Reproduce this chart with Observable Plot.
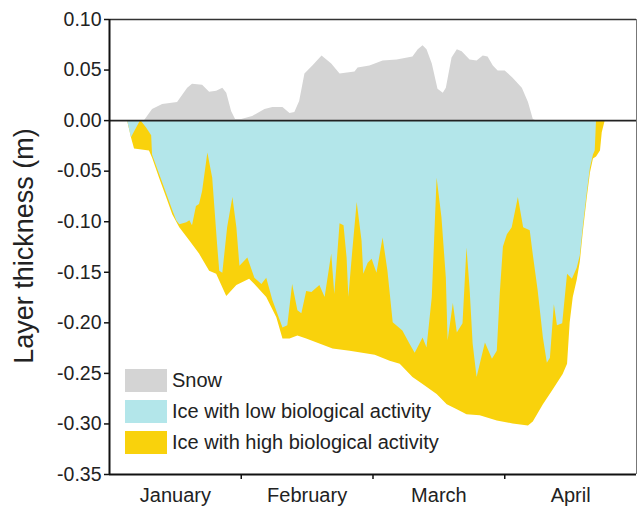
<!DOCTYPE html>
<html>
<head>
<meta charset="utf-8">
<script src="https://cdn.jsdelivr.net/npm/d3@7"></script>
<script src="https://cdn.jsdelivr.net/npm/@observablehq/plot@0.6"></script>
<style>
  html, body { margin: 0; padding: 0; background: #fff; }
  #wrap { position: relative; width: 637px; height: 507px; font-family: "Liberation Sans", Arial, sans-serif; }
  #legend { position: absolute; left: 125px; top: 369px; }
  .item { display: flex; align-items: center; height: 23px; margin-bottom: 8px; }
  .sw { width: 42px; height: 23px; margin-right: 5px; }
  .lab { font-size: 20px; color: #222; white-space: nowrap; }
</style>
</head>
<body>
<div id="wrap"></div>
<script>
// Time axis: days since 1 January (each month drawn as a 30-day block)
const months = ["January", "February", "March", "April"];
const monthCenters = [15, 45, 75, 105];
const monthEdges = [30, 60, 90];
const yTicks = [-0.35, -0.30, -0.25, -0.20, -0.15, -0.10, -0.05, 0.00, 0.05, 0.10];

const seriesNames = ["Snow", "Ice with low biological activity", "Ice with high biological activity"];
const seriesColors = ["#d4d4d4", "#b3e6ea", "#f9d20c"];

// Snow thickness (m)
const snowDay = [8.0, 9.8, 12.1, 15.5, 17.8, 18.9, 21.2, 22.8, 24.4, 25.8, 26.7, 27.8, 28.7, 30.1, 32.6, 35.4, 37.2, 39.5, 41.1, 42.2, 43.3, 44.5, 46.3, 48.4, 50.6, 52.5, 55.9, 56.6, 59.3, 62.3, 65.5, 69.1, 70.3, 71.4, 72.3, 73.5, 74.8, 76.0, 76.7, 78.0, 79.2, 80.3, 82.1, 83.7, 85.1, 86.2, 87.4, 88.5, 90.1, 91.9, 94.0, 95.4, 96.5, 97.0];
const snowDepth = [0, 0.011, 0.016, 0.018, 0.032, 0.036, 0.035, 0.028, 0.029, 0.032, 0.027, 0.009, 0.001, 0.001, 0.004, 0.011, 0.013, 0.013, 0.007, 0.008, 0.019, 0.046, 0.054, 0.064, 0.056, 0.046, 0.048, 0.052, 0.054, 0.059, 0.060, 0.063, 0.070, 0.074, 0.070, 0.056, 0.031, 0.027, 0.032, 0.062, 0.070, 0.068, 0.060, 0.059, 0.064, 0.063, 0.054, 0.049, 0.049, 0.042, 0.032, 0.018, 0.001, 0];

// Total ice thickness (bottom of the high-activity layer), negative downward (m)
const iceDay = [4.1, 5.0, 5.7, 9.1, 9.8, 11.4, 13.0, 14.4, 16.0, 18.3, 20.5, 22.8, 24.4, 26.7, 29.0, 31.9, 33.1, 35.8, 38.1, 39.5, 41.1, 42.9, 44.9, 47.9, 50.9, 54.8, 60.5, 63.9, 66.2, 69.1, 71.4, 74.6, 76.9, 79.2, 81.4, 84.4, 88.3, 91.9, 95.4, 96.5, 98.8, 101.1, 103.3, 104.3, 104.9, 105.6, 106.5, 107.2, 107.9, 108.8, 109.5, 110.2, 110.9, 111.8, 112.2, 112.9];
const iceBottom = [0, -0.017, -0.028, -0.030, -0.037, -0.057, -0.076, -0.093, -0.106, -0.119, -0.132, -0.149, -0.152, -0.174, -0.163, -0.157, -0.162, -0.175, -0.195, -0.216, -0.216, -0.213, -0.216, -0.221, -0.226, -0.228, -0.232, -0.238, -0.241, -0.254, -0.261, -0.271, -0.281, -0.286, -0.291, -0.292, -0.297, -0.300, -0.302, -0.298, -0.281, -0.266, -0.251, -0.241, -0.200, -0.175, -0.158, -0.140, -0.110, -0.076, -0.052, -0.038, -0.036, -0.030, -0.012, 0];

// Bottom of the low-activity ice layer (m)
const lowDay = [4.1, 5.0, 7.1, 8.4, 9.6, 9.8, 11.4, 13.0, 14.4, 15.3, 16.0, 17.6, 18.3, 18.9, 19.8, 20.5, 21.2, 22.4, 23.5, 24.6, 25.1, 25.8, 26.9, 28.1, 29.0, 29.7, 31.5, 33.1, 34.7, 35.8, 37.2, 39.5, 40.6, 41.7, 42.9, 43.8, 44.9, 46.1, 47.9, 49.1, 50.6, 51.3, 52.5, 53.4, 54.1, 54.5, 55.4, 56.4, 57.5, 57.9, 58.9, 59.8, 60.9, 62.3, 63.4, 64.6, 66.8, 68.4, 69.6, 71.4, 72.3, 73.5, 74.6, 75.7, 76.7, 77.1, 78.3, 79.2, 80.5, 81.4, 82.1, 82.8, 83.7, 85.6, 87.2, 88.3, 89.0, 89.7, 90.6, 91.7, 93.1, 94.3, 95.8, 96.5, 97.6, 98.8, 99.7, 100.4, 101.3, 102.0, 103.2, 104.3, 105.4, 106.5, 107.2, 107.9, 108.8, 109.5, 110.2, 110.6, 110.9];
const lowBottom = [0, -0.017, 0, -0.007, -0.015, -0.034, -0.053, -0.072, -0.089, -0.099, -0.103, -0.101, -0.099, -0.104, -0.085, -0.083, -0.070, -0.032, -0.057, -0.122, -0.149, -0.151, -0.106, -0.076, -0.106, -0.144, -0.136, -0.156, -0.162, -0.156, -0.178, -0.205, -0.203, -0.162, -0.188, -0.191, -0.169, -0.170, -0.163, -0.175, -0.132, -0.172, -0.102, -0.104, -0.136, -0.175, -0.129, -0.081, -0.119, -0.152, -0.141, -0.137, -0.151, -0.116, -0.149, -0.200, -0.208, -0.221, -0.230, -0.215, -0.225, -0.175, -0.057, -0.096, -0.156, -0.218, -0.181, -0.210, -0.201, -0.126, -0.166, -0.221, -0.254, -0.220, -0.236, -0.228, -0.170, -0.125, -0.113, -0.106, -0.076, -0.106, -0.109, -0.133, -0.168, -0.215, -0.240, -0.235, -0.182, -0.203, -0.201, -0.152, -0.157, -0.146, -0.134, -0.105, -0.071, -0.047, -0.034, -0.030, 0];

const snow = snowDay.map((d, i) => ({day: d, v: snowDepth[i]}));
const ice = iceDay.map((d, i) => ({day: d, v: iceBottom[i]}));
const low = lowDay.map((d, i) => ({day: d, v: lowBottom[i]}));

const font = "'Liberation Sans', Arial, sans-serif";

const chart = Plot.plot({
  width: 637,
  height: 507,
  marginLeft: 109,
  marginRight: 1,
  marginTop: 19,
  marginBottom: 33,
  style: {fontFamily: font, background: "#fff", color: "#222"},
  x: {domain: [0, 120]},
  y: {domain: [-0.35, 0.10]},
  marks: [
    Plot.areaY(snow, {x: "day", y: "v", fill: seriesColors[0]}),
    Plot.areaY(ice, {x: "day", y: "v", fill: seriesColors[2]}),
    Plot.areaY(low, {x: "day", y: "v", fill: seriesColors[1]}),
    Plot.ruleY([0], {stroke: "#222", strokeWidth: 1.6}),
    Plot.ruleY([0.10], {stroke: "#333", strokeWidth: 1.4}),
    Plot.ruleX([120], {stroke: "#777", strokeWidth: 1}),
    Plot.ruleX([0], {stroke: "#111", strokeWidth: 2}),
    Plot.ruleY([-0.35], {stroke: "#111", strokeWidth: 2}),
    Plot.axisY({ticks: yTicks, tickFormat: d => d.toFixed(2), tickSize: 5, tickPadding: 3, fontSize: 19.5, label: null, stroke: "#111", strokeWidth: 1.5}),
    Plot.axisX({ticks: monthEdges, tickFormat: () => "", tickSize: 5, label: null, stroke: "#111", strokeWidth: 1.5}),
    Plot.axisX({ticks: monthCenters, tickFormat: (d, i) => months[i], tickSize: 0, tickPadding: 13, fontSize: 20, label: null})
  ]
});

const wrap = document.getElementById("wrap");
wrap.appendChild(chart);

// y-axis title
d3.select(chart).append("text")
  .attr("transform", "translate(33,246) rotate(-90)")
  .attr("text-anchor", "middle")
  .attr("font-size", 27)
  .attr("font-family", font)
  .attr("fill", "#222")
  .text("Layer thickness (m)");

// legend
const legend = document.createElement("div");
legend.id = "legend";
seriesNames.forEach((name, i) => {
  const it = document.createElement("div");
  it.className = "item";
  const sw = document.createElement("div");
  sw.className = "sw";
  sw.style.background = seriesColors[i];
  const lab = document.createElement("span");
  lab.className = "lab";
  lab.textContent = name;
  it.appendChild(sw);
  it.appendChild(lab);
  legend.appendChild(it);
});
wrap.appendChild(legend);
</script>
</body>
</html>
